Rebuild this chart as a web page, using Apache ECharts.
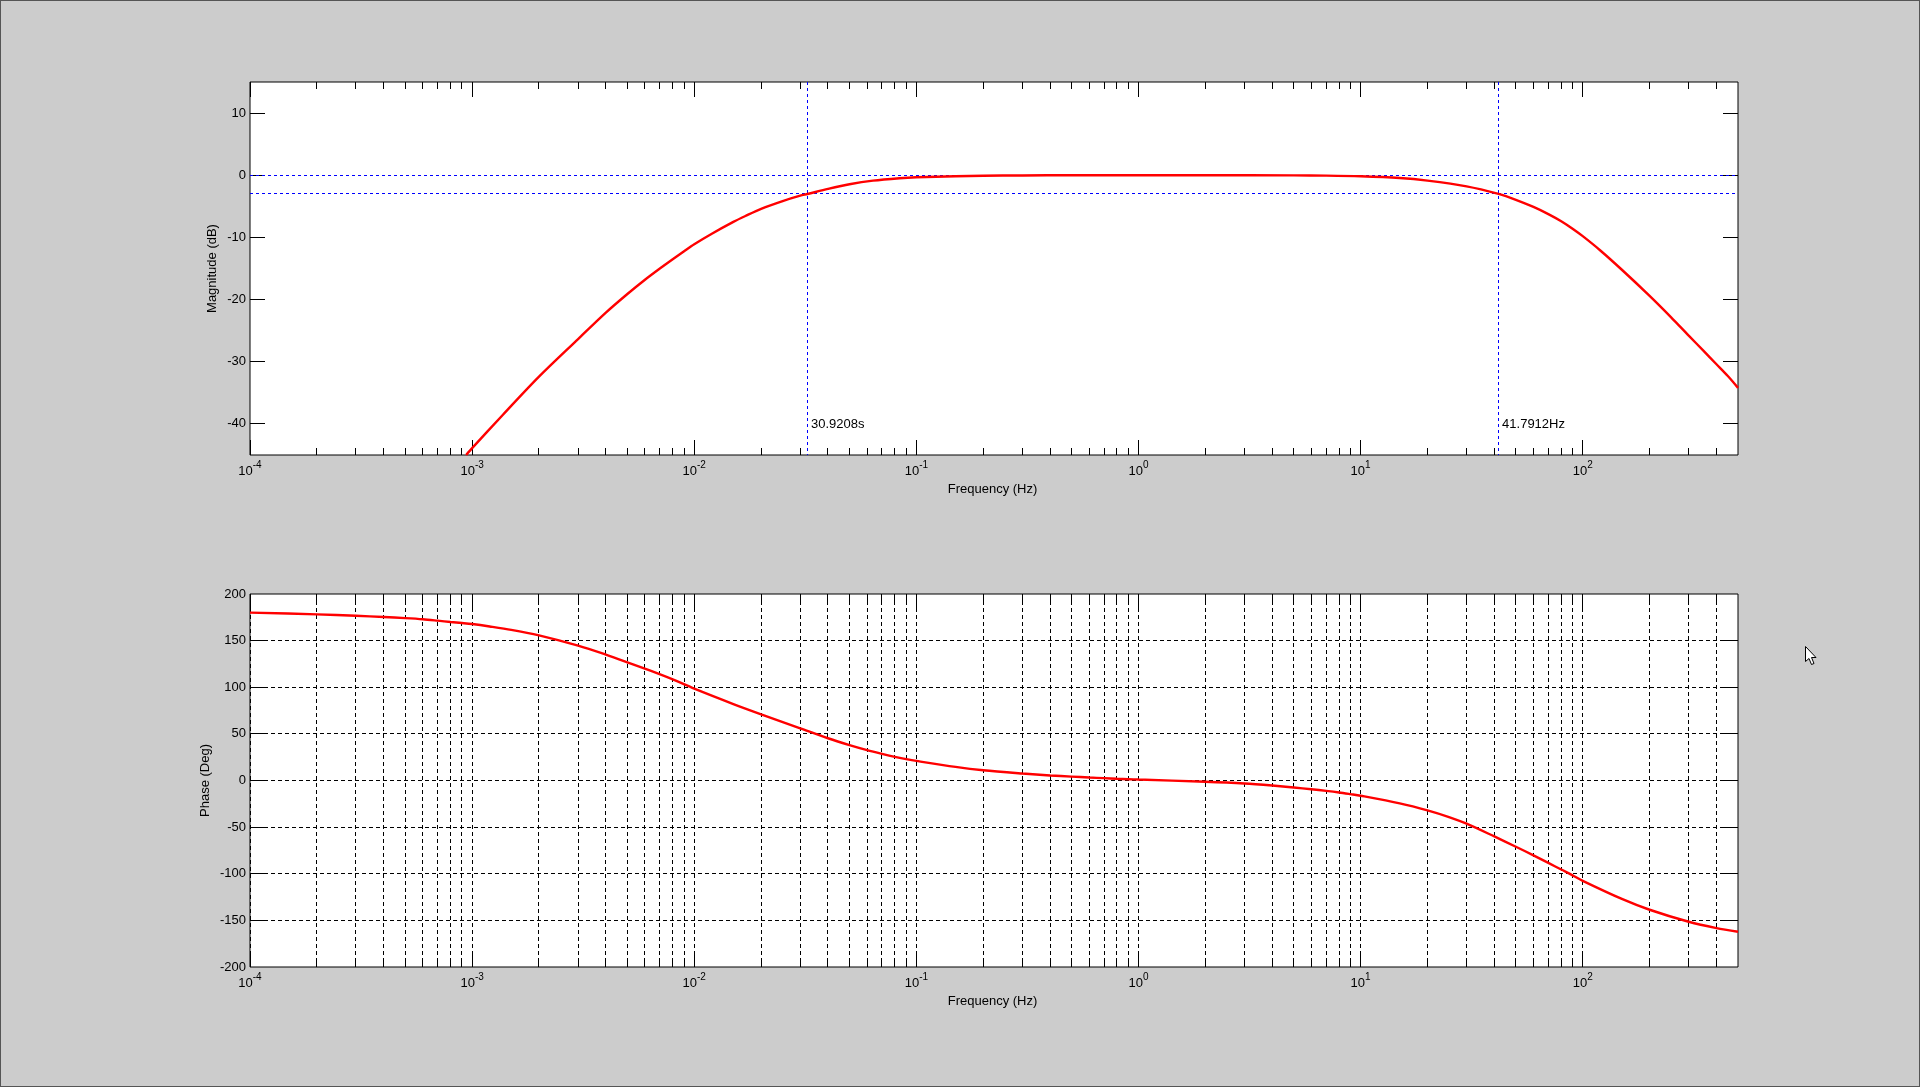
<!DOCTYPE html>
<html>
<head>
<meta charset="utf-8">
<style>
html,body{margin:0;padding:0;background:#cccccc;overflow:hidden}
#chart{width:1920px;height:1087px;box-shadow:inset 1px 1px 0 #555555,inset -1px -1px 0 #555555}
</style>
<script src="https://cdn.jsdelivr.net/npm/echarts@6/dist/echarts.min.js"></script>
</head>
<body>
<div id="chart"></div>
<script>
const magFreq = [0.00094,0.001,0.00137,0.002,0.003,0.004,0.005,0.006,0.007,0.008,0.009,0.01,0.012,0.015,0.017,0.02,0.025,0.03,0.03234,0.04,0.05,0.0638,0.084,0.1,0.15,0.2,0.3,0.5,1,2,5,7,10,15,20,30,41.7912,50,60,70,80,90,100,120,150,200,250,300,350,400,450,500];
const magDb = [-45,-43.9,-38.6,-32.4,-26.35,-22.1,-19.1,-16.8,-15,-13.5,-12.22,-11.1,-9.4,-7.5,-6.55,-5.4,-4.15,-3.28,-3.01,-2.2,-1.45,-0.87,-0.48,-0.33,-0.15,-0.08,-0.03,0,0,0,-0.02,-0.06,-0.17,-0.45,-0.87,-1.78,-3.01,-3.95,-5.1,-6.25,-7.4,-8.6,-9.8,-12.1,-15.2,-19.4,-22.85,-25.8,-28.25,-30.4,-32.3,-34.2];
const phaseFreq = [0.0001,0.0002,0.0003,0.0004,0.0005,0.0006,0.0007,0.0008,0.0009,0.001,0.0012,0.0015,0.002,0.003,0.004,0.005,0.0063,0.008,0.01,0.015,0.02,0.03,0.04,0.05,0.06,0.07,0.08,0.09,0.1,0.15,0.2,0.3,0.4,0.5,0.6,0.7,0.8,0.9,1,2,3,4,5,6,7,8,9,10,15,20,25,30,40,50,60,70,80,90,100,150,200,300,400,500];
const phaseDeg = [180,178.2,176.6,175.3,174.1,172.9,171.4,170,168.9,167.8,165.2,161.6,155.6,144.6,135,126.8,118,108.4,98.5,82,71,56,45.3,37.9,32.5,28.5,25.3,22.9,21,14.6,11,7.5,5.4,4.2,3.2,2.5,1.8,1.4,1,-1.3,-3.2,-5.4,-7.5,-9.4,-11.1,-12.8,-14.6,-16.3,-24.5,-32,-39.2,-46.3,-60,-71,-80.3,-88.4,-95.5,-101.7,-107.6,-127,-138.6,-151.5,-158.3,-162.2];
const majorFreqTicks = [0.0001,0.001,0.01,0.1,1,10,100];
const majorExponents = ['-4','-3','-2','-1','0','1','2'];
const minorFreqTicks = [0.0002,0.0003,0.0004,0.0005,0.0006,0.0007,0.0008,0.0009,0.002,0.003,0.004,0.005,0.006,0.007,0.008,0.009,0.02,0.03,0.04,0.05,0.06,0.07,0.08,0.09,0.2,0.3,0.4,0.5,0.6,0.7,0.8,0.9,2,3,4,5,6,7,8,9,20,30,40,50,60,70,80,90,200,300,400];
const magTicks = [-40,-30,-20,-10,0,10];
const phaseTicks = [-150,-100,-50,0,50,100,150];
const phaseEnds = [-200,200];
const cutoffFreqs = [0.03234,41.7912];
const cutoffLabels = ['30.9208s','41.7912Hz'];
const refLevels = [0,-3];
const xRange = [0.0001,500];
const magRange = [-45,15];
const phaseRange = [-200,200];

const FONT = '"Liberation Sans", Arial, sans-serif';
const TXT = {fontFamily:FONT,fontSize:13,color:'#000'};
const crisp = v => Math.floor(v) + 0.5;
const lineStyle = dash => ({stroke:'#000',lineWidth:1,lineDash:dash?[4,3]:null});
const blueStyle = {stroke:'#0000ff',lineWidth:1,lineDash:[3,3]};
const measureCtx = document.createElement('canvas').getContext('2d');
function textWidth(s,font){ measureCtx.font = font; return measureCtx.measureText(s).width; }

function seg(x1,y1,x2,y2,style){
  return {type:'line',shape:{x1,y1,x2,y2},style};
}
function xTickSeries(idx,yr,withGrid){
  const data = majorFreqTicks.map(f=>[f,1]).concat(minorFreqTicks.map(f=>[f,0]));
  return {type:'custom',xAxisIndex:idx,yAxisIndex:idx,coordinateSystem:'cartesian2d',silent:true,clip:false,z:1,
    encode:{x:0},data,
    renderItem(p,api){
      const x = crisp(api.coord([api.value(0),yr[0]])[0]);
      const yb = api.coord([1,yr[0]])[1], yt = api.coord([1,yr[1]])[1];
      const len = api.value(1)?15:7;
      const ch = [];
      if(withGrid) ch.push(seg(x,yt,x,yb,lineStyle(true)));
      ch.push(seg(x,yb,x,yb-len,lineStyle(false)),seg(x,yt,x,yt+len,lineStyle(false)));
      return {type:'group',children:ch};
    }};
}
function xLabelSeries(idx,yr){
  const baseFont = '13px '+FONT, expFont = '10px '+FONT;
  return {type:'custom',xAxisIndex:idx,yAxisIndex:idx,coordinateSystem:'cartesian2d',silent:true,clip:false,z:3,
    encode:{x:0},data:majorFreqTicks.map((f,i)=>[f,i]),
    renderItem(p,api){
      const x = api.coord([api.value(0),yr[0]])[0];
      const yb = api.coord([1,yr[0]])[1];
      const exp = majorExponents[api.value(1)];
      const bw = textWidth('10',baseFont), ew = textWidth(exp,expFont);
      const left = x-(bw+ew)/2;
      return {type:'group',children:[
        {type:'text',x:left,y:yb+16.5,style:{text:'10',font:baseFont,fill:'#000',textAlign:'left',textVerticalAlign:'middle'}},
        {type:'text',x:left+bw,y:yb+10,style:{text:exp,font:expFont,fill:'#000',textAlign:'left',textVerticalAlign:'middle'}}
      ]};
    }};
}
function yTickSeries(idx,vals,withGrid){
  return {type:'custom',xAxisIndex:idx,yAxisIndex:idx,coordinateSystem:'cartesian2d',silent:true,clip:false,z:1,
    encode:{y:0},data:vals.map(v=>[v]),
    renderItem(p,api){
      const y = crisp(api.coord([1,api.value(0)])[1]);
      const xl = api.coord([xRange[0],0])[0], xr = api.coord([xRange[1],0])[0];
      const ch = [];
      if(withGrid) ch.push(seg(xl,y,xr,y,lineStyle(true)));
      ch.push(seg(xl,y,xl+15,y,lineStyle(false)),seg(xr,y,xr-15,y,lineStyle(false)));
      return {type:'group',children:ch};
    }};
}
function blueLevels(){
  return {type:'custom',xAxisIndex:0,yAxisIndex:0,coordinateSystem:'cartesian2d',silent:true,clip:false,z:2,
    encode:{y:0},data:refLevels.map(v=>[v]),
    renderItem(p,api){
      const y = crisp(api.coord([1,api.value(0)])[1]);
      return seg(api.coord([xRange[0],0])[0],y,api.coord([xRange[1],0])[0],y,blueStyle);
    }};
}
function blueCutoffs(){
  return {type:'custom',xAxisIndex:0,yAxisIndex:0,coordinateSystem:'cartesian2d',silent:true,clip:false,z:2,
    encode:{x:0},data:cutoffFreqs.map(v=>[v]),
    renderItem(p,api){
      const x = crisp(api.coord([api.value(0),0])[0]);
      return seg(x,api.coord([1,magRange[1]])[1],x,api.coord([1,magRange[0]])[1],blueStyle);
    }};
}
function xAxis(idx){
  return {type:'log',logBase:10,gridIndex:idx,min:xRange[0],max:xRange[1],
    name:'Frequency (Hz)',nameLocation:'middle',nameGap:28,nameMoveOverlap:false,nameTextStyle:{...TXT,padding:[0,3,0,0]},
    axisLine:{show:false},axisTick:{show:false},splitLine:{show:false},minorTick:{show:false},
    axisLabel:{show:false}};
}
function yAxis(idx,range,vals,name,gap){
  return {type:'value',gridIndex:idx,min:range[0],max:range[1],
    name,nameLocation:'middle',nameGap:gap,nameMoveOverlap:false,nameRotate:90,nameTextStyle:TXT,
    axisLine:{show:false},axisTick:{show:false},splitLine:{show:false},
    axisLabel:{...TXT,margin:4,customValues:vals,formatter:v=>String(v),hideOverlap:false}};
}

const chart = echarts.init(document.getElementById('chart'),null,{renderer:'canvas',width:1920,height:1087});
chart.setOption({
  animation:false,
  backgroundColor:'transparent',
  grid:[
    {left:250,top:82,width:1488,height:373,show:true,backgroundColor:'#fff',borderColor:'#000',borderWidth:1,containLabel:false},
    {left:250,top:594,width:1488,height:373,show:true,backgroundColor:'#fff',borderColor:'#000',borderWidth:1,containLabel:false}
  ],
  xAxis:[xAxis(0),xAxis(1)],
  yAxis:[yAxis(0,magRange,magTicks,'Magnitude (dB)',31),yAxis(1,phaseRange,phaseTicks.concat(phaseEnds),'Phase (Deg)',38)],
  series:[
    xTickSeries(0,magRange,false),
    yTickSeries(0,magTicks,false),
    xLabelSeries(0,magRange),
    xTickSeries(1,phaseRange,true),
    yTickSeries(1,phaseTicks,true),
    xLabelSeries(1,phaseRange),
    blueLevels(),
    blueCutoffs(),
    {type:'line',xAxisIndex:0,yAxisIndex:0,showSymbol:false,silent:true,z:5,smooth:0.3,
     data:magFreq.map((f,i)=>[f,magDb[i]]),lineStyle:{color:'#ff0000',width:2.4}},
    {type:'line',xAxisIndex:1,yAxisIndex:1,showSymbol:false,silent:true,z:5,smooth:0.3,
     data:phaseFreq.map((f,i)=>[f,phaseDeg[i]]),lineStyle:{color:'#ff0000',width:2.4}},
    {type:'custom',xAxisIndex:0,yAxisIndex:0,coordinateSystem:'cartesian2d',silent:true,clip:false,z:6,
     encode:{x:0,y:1},data:cutoffFreqs.map((f,i)=>[f,-40,i]),
     renderItem(p,api){
       const c = api.coord([api.value(0),api.value(1)]);
       return {type:'text',x:c[0]+3.5,y:c[1]+1,style:{text:cutoffLabels[api.value(2)],font:'13px '+FONT,fill:'#000',textAlign:'left',textVerticalAlign:'middle'}};
     }}
  ],
  graphic:[{type:'polygon',x:1805.5,y:646.5,silent:true,z:100,
    shape:{points:[[0,0],[0,15],[3.5,12],[6,18],[8.5,17],[6,11],[10.5,11]]},
    style:{fill:'#fff',stroke:'#000',lineWidth:1}}]
});
</script>
</body>
</html>
